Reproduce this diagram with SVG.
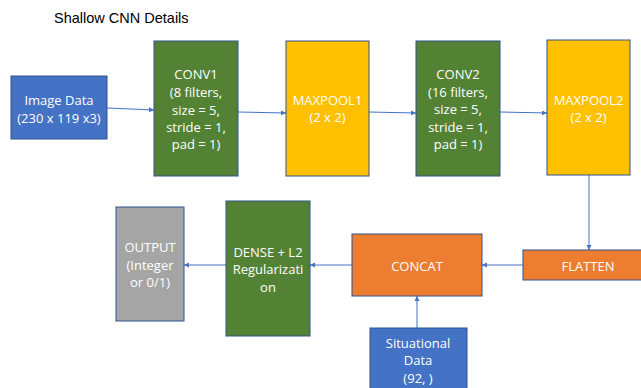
<svg xmlns="http://www.w3.org/2000/svg" width="641" height="388" viewBox="0 0 641 388">
<style>
.t{font-family:"Liberation Sans",Arial,sans-serif;font-size:14.5px;fill:#000}
.l{font-family:"Open Sans","Liberation Sans",sans-serif;font-size:13px;fill:#fff;text-anchor:middle}
.b{stroke:#2F528F;stroke-width:1}
.c{stroke:#4472C4;stroke-width:1;fill:none;marker-end:url(#ah)}
</style>
<defs>
<marker id="ah" markerWidth="6" markerHeight="6" refX="5" refY="3" orient="auto" markerUnits="userSpaceOnUse">
<path d="M0,0.5 L5,3 L0,5.5 Z" fill="#4472C4"/>
</marker>
</defs>
<rect width="641" height="388" fill="#fff"/>
<text class="t" x="54" y="23">Shallow CNN Details</text>
<g id="connectors">
<path class="c" d="M107,108 L154,110"/>
<path class="c" d="M238,112 L286,113"/>
<path class="c" d="M369,112 L416,113"/>
<path class="c" d="M500,112 L547,113"/>
<path class="c" d="M589,175 L589,250"/>
<path class="c" d="M523,265 L482,265"/>
<path class="c" d="M417,328 L417,296"/>
<path class="c" d="M352,265 L310,265"/>
<path class="c" d="M226,265 L184,265"/>
</g>
<g id="image-data">
<rect class="b" x="11" y="76" width="96" height="63" fill="#4472C4"/>
<text class="l" x="59" y="105">Image Data</text>
<text class="l" x="59" y="123">(230 x 119 x3)</text>
</g>
<g id="conv1">
<rect class="b" x="154" y="41" width="84" height="135" fill="#548235"/>
<text class="l" x="196" y="79">CONV1</text>
<text class="l" x="196" y="97">(8 filters,</text>
<text class="l" x="196" y="115">size = 5,</text>
<text class="l" x="196" y="132">stride = 1,</text>
<text class="l" x="196" y="149">pad = 1)</text>
</g>
<g id="maxpool1">
<rect class="b" x="286" y="41" width="83" height="135" fill="#FFC000"/>
<text class="l" x="327.5" y="105">MAXPOOL1</text>
<text class="l" x="327.5" y="122">(2 x 2)</text>
</g>
<g id="conv2">
<rect class="b" x="416" y="41" width="84" height="135" fill="#548235"/>
<text class="l" x="458" y="79">CONV2</text>
<text class="l" x="458" y="97">(16 filters,</text>
<text class="l" x="458" y="114">size = 5,</text>
<text class="l" x="458" y="132">stride = 1,</text>
<text class="l" x="458" y="149">pad = 1)</text>
</g>
<g id="maxpool2">
<rect class="b" x="547" y="40" width="83" height="135" fill="#FFC000"/>
<text class="l" x="588.5" y="105">MAXPOOL2</text>
<text class="l" x="588.5" y="122">(2 x 2)</text>
</g>
<g id="flatten">
<rect class="b" x="523" y="250" width="120" height="30" fill="#ED7D31"/>
<text class="l" x="588" y="271">FLATTEN</text>
</g>
<g id="concat">
<rect class="b" x="352" y="234" width="130" height="62" fill="#ED7D31"/>
<text class="l" x="417" y="271">CONCAT</text>
</g>
<g id="situational-data">
<rect class="b" x="370" y="328" width="97" height="65" fill="#4472C4"/>
<text class="l" x="418" y="348">Situational</text>
<text class="l" x="418" y="365">Data</text>
<text class="l" x="418" y="383">(92, )</text>
</g>
<g id="dense">
<rect class="b" x="226" y="201" width="84" height="135" fill="#548235"/>
<text class="l" x="268" y="257">DENSE + L2</text>
<text class="l" x="268" y="274">Regularizati</text>
<text class="l" x="268" y="292">on</text>
</g>
<g id="output">
<rect class="b" x="116" y="207" width="68" height="114" fill="#A5A5A5"/>
<text class="l" x="150" y="252">OUTPUT</text>
<text class="l" x="150" y="270">(Integer</text>
<text class="l" x="150" y="287">or 0/1)</text>
</g>
</svg>
